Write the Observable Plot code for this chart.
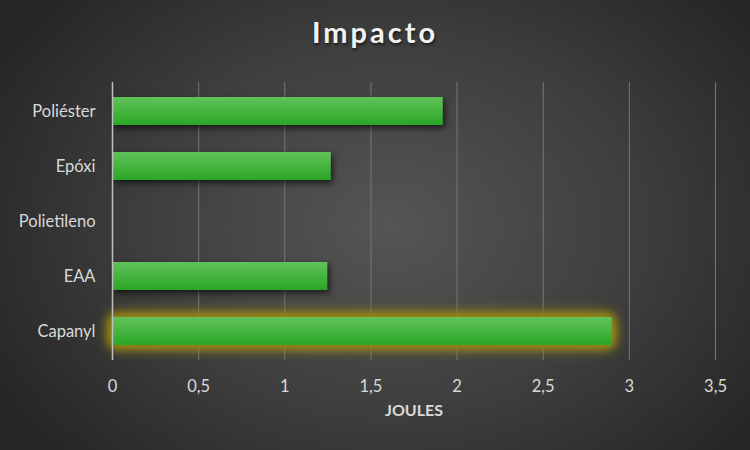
<!DOCTYPE html>
<html><head><meta charset="utf-8">
<script src="https://cdn.jsdelivr.net/npm/d3@7"></script>
<script src="https://cdn.jsdelivr.net/npm/@observablehq/plot@0.6"></script>
<style>
html,body{margin:0;padding:0;}
#wrap{width:750px;height:450px;position:relative;overflow:hidden;
 background:radial-gradient(ellipse 60% 75% at 52% 50%, #555555 0%, #3e3e3e 55%, #262626 100%);
 font-family:Lato,"Open Sans",sans-serif;}
#title{position:absolute;top:14px;left:0;width:750px;text-align:center;color:#f2f2f2;
 font-size:29px;font-weight:bold;letter-spacing:3px;text-shadow:1px 2px 3px rgba(0,0,0,0.6);}
#chart{position:absolute;top:75px;left:0;}
</style></head>
<body><div id="wrap"><div id="title">Impacto</div><div id="chart"></div></div>
<script>
const categories = ["Poliéster","Epóxi","Polietileno","EAA","Capanyl"];
const values = [1.92, 1.27, 0, 1.25, 2.9];
const xTicks = [0,0.5,1,1.5,2,2.5,3,3.5];
const xLabel = "JOULES";
const highlighted = "Capanyl";

const data = categories.map((c,i)=>({cat:c, v:values[i]}));
const fmt = d => String(d).replace(".", ",");

const plot = Plot.plot({
  width:750, height:375,
  marginTop:7, marginBottom:90, marginLeft:112, marginRight:35,
  style:{background:"transparent", color:"#d9d9d9", fontFamily:"Lato, 'Open Sans', sans-serif", fontSize:"16.5px"},
  x:{domain:[0,3.5], ticks:xTicks, tickFormat:fmt, label:null},
  y:{domain:categories, paddingInner:0.5, paddingOuter:0.25, label:null},
  marks:[
    Plot.gridX(xTicks.slice(1), {stroke:"#777", strokeOpacity:1, strokeWidth:1}),
    Plot.barX(data, {x:"v", y:"cat", fill:"#3cb034", className:"bars"}),
    Plot.ruleX([0], {stroke:"#bfbfbf", strokeWidth:1.5}),
    Plot.axisX({ticks:xTicks, tickFormat:fmt, tickSize:0, tickPadding:20, fill:"#d9d9d9", fontSize:16.5}),
    Plot.axisY({tickSize:0, tickPadding:17, fill:"#d9d9d9", fontSize:16.5}),
    Plot.text([xLabel], {frameAnchor:"bottom", dy:55, fill:"#d9d9d9", fontWeight:"bold", fontSize:16})
  ]
});
document.getElementById("chart").appendChild(plot);

const svg = d3.select(plot);
const defs = svg.insert("defs", ":first-child");
const g = defs.append("linearGradient").attr("id","barGrad").attr("x1",0).attr("y1",0).attr("x2",0).attr("y2",1);
g.append("stop").attr("offset","0%").attr("stop-color","#62c25a");
g.append("stop").attr("offset","100%").attr("stop-color","#2aa626");
svg.selectAll("g.bars rect").each(function(d,i){
  const r = d3.select(this);
  r.attr("fill","url(#barGrad)");
  if (categories[i] === highlighted) {
    r.style("filter","drop-shadow(0 0 4px #9c8c14) drop-shadow(0 0 6px #948518) drop-shadow(0 0 4px #8c7e1a)");
  } else {
    r.style("filter","drop-shadow(2px 3px 3px rgba(0,0,0,0.65))");
  }
});
</script></body></html>
